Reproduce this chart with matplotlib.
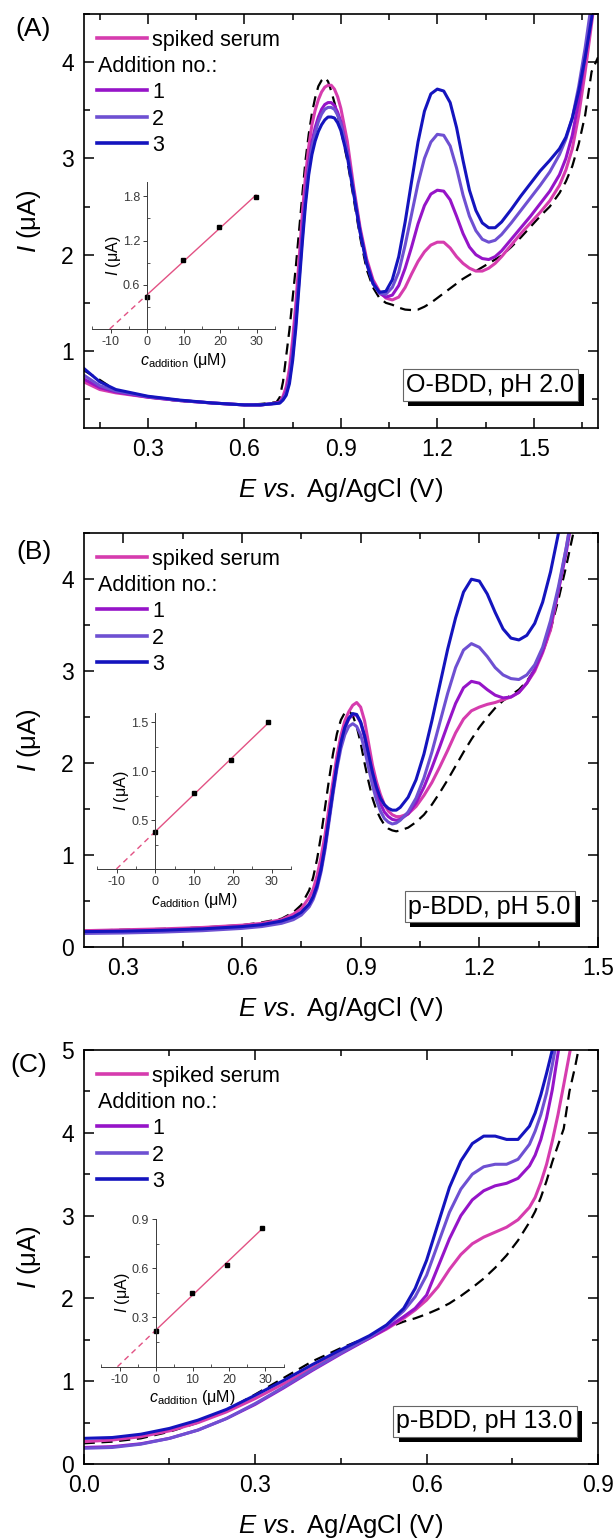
import numpy as np
import matplotlib
matplotlib.use('Agg')
import matplotlib.pyplot as plt
import matplotlib.patheffects as pe
from matplotlib.ticker import MultipleLocator

plt.rcParams['font.family'] = ['Liberation Sans', 'DejaVu Sans']
plt.rcParams['mathtext.fontset'] = 'custom'
plt.rcParams['mathtext.rm'] = 'Liberation Sans'
plt.rcParams['mathtext.it'] = 'Liberation Sans:italic'
plt.rcParams['axes.unicode_minus'] = False

# ---- panel A (O-BDD, pH 2.0) ----
E_a = [0.10, 0.15, 0.20, 0.30, 0.40, 0.50, 0.60, 0.65, 0.68, 0.70, 0.71, 0.72, 0.73, 0.74, 0.75,
       0.76, 0.77, 0.78, 0.79, 0.80, 0.81, 0.82, 0.83, 0.84, 0.85, 0.86, 0.87, 0.88, 0.89, 0.90,
       0.92, 0.94, 0.96, 0.98, 1.00, 1.02, 1.04, 1.06, 1.08, 1.10, 1.12, 1.14, 1.16, 1.18, 1.20,
       1.22, 1.24, 1.26, 1.28, 1.30, 1.32, 1.34, 1.36, 1.38, 1.40, 1.43, 1.46, 1.49, 1.52, 1.55,
       1.58, 1.60, 1.62, 1.64, 1.66, 1.68, 1.70]
blank_a = [0.80, 0.70, 0.59, 0.52, 0.48, 0.46, 0.44, 0.45, 0.46, 0.47, 0.52, 0.68, 0.95, 1.22, 1.55,
           1.88, 2.25, 2.62, 2.98, 3.25, 3.47, 3.63, 3.75, 3.81, 3.84, 3.80, 3.70, 3.58, 3.45, 3.30,
           2.98, 2.58, 2.18, 1.85, 1.66, 1.55, 1.50, 1.48, 1.45, 1.43, 1.425, 1.43, 1.46, 1.50, 1.55,
           1.60, 1.65, 1.70, 1.75, 1.79, 1.83, 1.87, 1.91, 1.95, 1.99, 2.08, 2.18, 2.29, 2.40, 2.50,
           2.64, 2.76, 2.92, 3.15, 3.45, 3.90, 4.05]
serum_a = [0.68, 0.60, 0.565, 0.52, 0.485, 0.46, 0.44, 0.44, 0.45, 0.46, 0.47, 0.53, 0.63, 0.82, 1.12,
           1.50, 1.95, 2.42, 2.82, 3.12, 3.35, 3.50, 3.61, 3.69, 3.74, 3.76, 3.76, 3.72, 3.64, 3.52,
           3.18, 2.70, 2.28, 1.96, 1.74, 1.62, 1.55, 1.53, 1.56, 1.66, 1.80, 1.93, 2.03, 2.10, 2.13,
           2.13, 2.07, 1.98, 1.91, 1.86, 1.83, 1.83, 1.86, 1.91, 1.98, 2.10, 2.22, 2.33, 2.44, 2.56,
           2.72, 2.88, 3.10, 3.45, 3.90, 4.40, 4.90]
add1_a = [0.71, 0.62, 0.575, 0.52, 0.485, 0.46, 0.44, 0.44, 0.45, 0.46, 0.465, 0.51, 0.58, 0.74, 1.00,
          1.36, 1.80, 2.25, 2.64, 2.95, 3.17, 3.32, 3.43, 3.51, 3.56, 3.58, 3.58, 3.55, 3.48, 3.38,
          3.07, 2.66, 2.25, 1.93, 1.72, 1.60, 1.56, 1.58, 1.68, 1.86, 2.08, 2.32, 2.51, 2.63, 2.67,
          2.66, 2.57, 2.40, 2.22, 2.08, 2.00, 1.96, 1.95, 1.98, 2.04, 2.16, 2.28, 2.40, 2.53, 2.66,
          2.83, 3.00, 3.24, 3.60, 4.06, 4.55, 5.00]
add2_a = [0.75, 0.64, 0.585, 0.525, 0.485, 0.46, 0.44, 0.44, 0.45, 0.455, 0.46, 0.50, 0.56, 0.70, 0.95,
          1.30, 1.74, 2.18, 2.58, 2.90, 3.12, 3.27, 3.38, 3.46, 3.51, 3.53, 3.53, 3.51, 3.45, 3.36,
          3.06, 2.65, 2.24, 1.92, 1.70, 1.60, 1.59, 1.66, 1.82, 2.10, 2.42, 2.74, 3.00, 3.17, 3.25,
          3.24, 3.13, 2.90, 2.62, 2.40, 2.25, 2.16, 2.13, 2.15, 2.21, 2.33, 2.46, 2.59, 2.72, 2.86,
          3.04, 3.20, 3.42, 3.75, 4.15, 4.62, 5.00]
add3_a = [0.82, 0.68, 0.60, 0.53, 0.49, 0.46, 0.44, 0.44, 0.45, 0.455, 0.46, 0.49, 0.54, 0.66, 0.90,
          1.24, 1.68, 2.12, 2.52, 2.83, 3.04, 3.18, 3.28, 3.35, 3.40, 3.43, 3.43, 3.42, 3.37, 3.29,
          3.02, 2.63, 2.23, 1.91, 1.70, 1.61, 1.62, 1.74, 1.98, 2.34, 2.76, 3.17, 3.49, 3.67, 3.72,
          3.70, 3.58, 3.32, 2.98, 2.67, 2.46, 2.33, 2.28, 2.28, 2.34, 2.47, 2.61, 2.74, 2.87, 2.98,
          3.10, 3.22, 3.42, 3.70, 4.05, 4.45, 4.90]
conc_a = [0, 9.9, 19.7, 29.8]
peak_a = [0.44, 0.935, 1.39, 1.79]

# ---- panel B (p-BDD, pH 5.0) ----
E_b = [0.20, 0.30, 0.40, 0.50, 0.60, 0.65, 0.70, 0.73, 0.75, 0.77, 0.78, 0.79, 0.80, 0.81, 0.82,
       0.83, 0.84, 0.85, 0.86, 0.87, 0.88, 0.89, 0.90, 0.91, 0.92, 0.93, 0.94, 0.95, 0.96, 0.97,
       0.98, 0.99, 1.00, 1.02, 1.04, 1.06, 1.08, 1.10, 1.12, 1.14, 1.16, 1.18, 1.20, 1.22, 1.24,
       1.26, 1.28, 1.30, 1.32, 1.34, 1.36, 1.38, 1.40, 1.42, 1.44, 1.46]
blank_b = [0.18, 0.19, 0.20, 0.215, 0.24, 0.27, 0.31, 0.38, 0.46, 0.62, 0.76, 0.96, 1.22, 1.52, 1.82,
           2.10, 2.32, 2.47, 2.55, 2.57, 2.52, 2.40, 2.22, 2.00, 1.80, 1.62, 1.49, 1.40, 1.33, 1.29,
           1.27, 1.26, 1.27, 1.30, 1.36, 1.44, 1.55, 1.68, 1.82, 1.97, 2.12, 2.26, 2.39, 2.50, 2.60,
           2.68, 2.74, 2.80, 2.89, 3.02, 3.20, 3.45, 3.78, 4.15, 4.55, 5.00]
serum_b = [0.18, 0.19, 0.20, 0.215, 0.24, 0.26, 0.30, 0.36, 0.42, 0.54, 0.63, 0.78, 0.98, 1.22, 1.52,
           1.80, 2.08, 2.30, 2.46, 2.56, 2.63, 2.66, 2.61, 2.46, 2.22, 1.98, 1.80, 1.66, 1.55, 1.48,
           1.44, 1.42, 1.42, 1.45, 1.53, 1.65, 1.79, 1.96, 2.14, 2.33, 2.48, 2.57, 2.61, 2.64, 2.66,
           2.69, 2.72, 2.77, 2.87, 3.00, 3.20, 3.45, 3.88, 4.35, 4.85, 5.30]
add1_b = [0.16, 0.165, 0.175, 0.19, 0.215, 0.235, 0.27, 0.32, 0.37, 0.47, 0.55, 0.68, 0.86, 1.10, 1.40,
          1.70, 1.98, 2.22, 2.38, 2.48, 2.53, 2.52, 2.44, 2.28, 2.07, 1.86, 1.69, 1.56, 1.47, 1.42,
          1.39, 1.38, 1.39, 1.45, 1.57, 1.74, 1.95, 2.18, 2.42, 2.65, 2.82, 2.89, 2.87, 2.80, 2.74,
          2.71, 2.72, 2.77, 2.87, 3.02, 3.22, 3.50, 3.88, 4.30, 4.80, 5.30]
add2_b = [0.15, 0.155, 0.165, 0.18, 0.205, 0.225, 0.26, 0.30, 0.35, 0.44, 0.52, 0.64, 0.82, 1.06, 1.36,
          1.66, 1.94, 2.16, 2.31, 2.40, 2.43, 2.40, 2.31, 2.15, 1.95, 1.76, 1.60, 1.48, 1.40, 1.36,
          1.34, 1.35, 1.38, 1.47, 1.62, 1.84, 2.12, 2.44, 2.76, 3.04, 3.23, 3.30, 3.26, 3.16, 3.04,
          2.96, 2.92, 2.91, 2.96, 3.07, 3.26, 3.55, 3.92, 4.35, 4.85, 5.30]
add3_b = [0.17, 0.175, 0.185, 0.20, 0.225, 0.245, 0.285, 0.33, 0.38, 0.47, 0.55, 0.67, 0.85, 1.10, 1.40,
          1.70, 1.98, 2.22, 2.39, 2.49, 2.54, 2.53, 2.45, 2.30, 2.10, 1.90, 1.74, 1.62, 1.55, 1.51,
          1.49, 1.49, 1.52, 1.63, 1.82, 2.10, 2.46, 2.85, 3.24, 3.58, 3.86, 4.00, 3.98, 3.84, 3.64,
          3.46, 3.36, 3.34, 3.39, 3.52, 3.75, 4.08, 4.50, 5.00, 5.50, 6.00]
conc_b = [0, 9.9, 19.6, 29.1]
peak_b = [0.38, 0.777, 1.116, 1.50]

# ---- panel C (p-BDD, pH 13.0) ----
E_c = [0.00, 0.05, 0.10, 0.15, 0.20, 0.25, 0.30, 0.35, 0.40, 0.45, 0.50, 0.53, 0.56, 0.58, 0.60,
       0.62, 0.64, 0.66, 0.68, 0.70, 0.72, 0.74, 0.76, 0.78, 0.79, 0.80, 0.81, 0.82, 0.83, 0.84,
       0.85, 0.86, 0.87, 0.88]
blank_c = [0.25, 0.27, 0.31, 0.39, 0.50, 0.65, 0.84, 1.04, 1.24, 1.40, 1.54, 1.64, 1.72, 1.76, 1.81,
           1.87, 1.94, 2.03, 2.13, 2.24, 2.37, 2.52, 2.70, 2.92, 3.05, 3.22, 3.42, 3.65, 3.85, 4.05,
           4.50, 4.80, 5.15, 5.50]
serum_c = [0.27, 0.29, 0.33, 0.40, 0.50, 0.63, 0.79, 0.97, 1.16, 1.35, 1.52, 1.63, 1.76, 1.86, 1.98,
           2.14, 2.35, 2.53, 2.66, 2.74, 2.80, 2.86, 2.95, 3.10, 3.22, 3.40, 3.62, 3.90, 4.22, 4.58,
           4.95, 5.30, 5.70, 6.00]
add1_c = [0.20, 0.21, 0.245, 0.31, 0.41, 0.55, 0.72, 0.92, 1.13, 1.33, 1.52, 1.64, 1.78, 1.88, 2.04,
          2.38, 2.72, 3.00, 3.19, 3.30, 3.36, 3.39, 3.45, 3.60, 3.73, 3.92, 4.18, 4.52, 4.96, 5.40,
          5.80, 6.20, 6.60, 7.00]
add2_c = [0.19, 0.20, 0.24, 0.31, 0.41, 0.55, 0.73, 0.93, 1.14, 1.34, 1.53, 1.67, 1.85, 2.02, 2.28,
          2.66, 3.04, 3.32, 3.50, 3.59, 3.62, 3.62, 3.68, 3.86, 4.02, 4.22, 4.48, 4.82, 5.20, 5.60,
          6.00, 6.40, 6.80, 7.20]
add3_c = [0.31, 0.32, 0.36, 0.43, 0.53, 0.66, 0.83, 1.01, 1.20, 1.38, 1.55, 1.68, 1.88, 2.12, 2.46,
          2.90, 3.34, 3.66, 3.87, 3.96, 3.96, 3.92, 3.92, 4.08, 4.24, 4.46, 4.72, 5.00, 5.40, 5.80,
          6.20, 6.60, 7.00, 7.40]
conc_c = [0, 9.8, 19.5, 29.0]
peak_c = [0.219, 0.449, 0.618, 0.845]

colors = ['#d63cae', '#9614c8', '#6e50d2', '#1414be']
fit_color = '#e25284'

fig = plt.figure(figsize=(6.16, 15.38), dpi=100)


def main_panel(bottom, E, blank, curves, xlim, ylim, xticks, yticks,
               box_text, box_x, box_y, letter, letter_x, letter_y):
    ax = fig.add_axes([0.1359, bottom, 0.8349, 0.2692])
    ax.plot(E, blank, color='black', lw=1.6, ls=(0, (5, 3)))
    for y, c in zip(curves, colors):
        ax.plot(E, y, color=c, lw=2.2)
    ax.set_xlim(*xlim)
    ax.set_ylim(*ylim)
    ax.set_xticks(xticks)
    ax.set_yticks(yticks)
    ax.xaxis.set_minor_locator(MultipleLocator(0.15))
    ax.yaxis.set_minor_locator(MultipleLocator(0.5))
    ax.tick_params(which='both', direction='in', top=True, right=True, labelsize=16.5, width=1.1)
    ax.tick_params(which='major', length=7, pad=7)
    ax.tick_params(which='minor', length=4)
    for s in ax.spines.values():
        s.set_linewidth(1.2)
    ax.set_xlabel(r'$E$ $vs.$ Ag/AgCl (V)', fontsize=18.5, labelpad=11)
    ax.set_ylabel(r'$I$ (μA)', fontsize=18.5, labelpad=13)

    # legend drawn by hand (header line has no handle)
    ys = [0.943, 0.879, 0.816, 0.751, 0.688]
    names = ['spiked serum', None, '1', '2', '3']
    cols = [colors[0], None, colors[1], colors[2], colors[3]]
    for y, n, c in zip(ys, names, cols):
        if n is None:
            ax.text(0.027, y, 'Addition no.:', transform=ax.transAxes,
                    va='center_baseline', fontsize=15.5)
            continue
        ax.plot([0.0266, 0.1235], [y, y], color=c, lw=2.6, transform=ax.transAxes)
        ax.text(0.1335, y, n, transform=ax.transAxes, va='center_baseline', fontsize=15.5)

    t = ax.text(box_x, box_y, box_text, transform=ax.transAxes, ha='right', va='center',
                fontsize=18, bbox=dict(boxstyle='square,pad=0.15', fc='white', ec='#666666', lw=0.8))
    t.get_bbox_patch().set_path_effects([
        pe.SimplePatchShadow(offset=(4.2, -3.6), shadow_rgbFace='black', alpha=1.0),
        pe.Normal()])
    fig.text(letter_x, letter_y, letter, ha='center', va='center', fontsize=19)
    return ax


def inset(rect, conc, peak, ytop, yticks, yminor):
    ins = fig.add_axes(rect)
    ins.patch.set_alpha(0)
    m, b = np.polyfit(conc, peak, 1)
    x0 = -b / m
    ins.plot([x0, 0], [0, b], color=fit_color, lw=1, ls=(0, (4, 3)))
    ins.plot([0, conc[-1]], [b, m * conc[-1] + b], color=fit_color, lw=1)
    ins.plot(conc, peak, 's', color='black', ms=3.4)
    ins.set_xlim(-15, 35)
    ins.set_ylim(0, ytop)
    ins.spines['top'].set_visible(False)
    ins.spines['right'].set_visible(False)
    ins.spines['left'].set_position(('data', 0))
    for s in ('left', 'bottom'):
        ins.spines[s].set_linewidth(0.7)
        ins.spines[s].set_color('#3a3a3a')
    ins.set_xticks([-10, 0, 10, 20, 30])
    ins.xaxis.set_minor_locator(MultipleLocator(5))
    ins.set_yticks(yticks)
    ins.yaxis.set_minor_locator(MultipleLocator(yminor))
    ins.tick_params(which='major', direction='out', length=3, width=0.7, colors='#3a3a3a',
                    labelsize=9, pad=2)
    ins.tick_params(which='minor', direction='in', length=2, width=0.6, colors='#3a3a3a')
    ins.set_xlabel(r'$c_{\mathrm{addition}}$ (μM)', fontsize=11.5, labelpad=2)
    ins.set_ylabel(r'$I$ (μA)', fontsize=11.5, labelpad=0)
    return ins


main_panel(0.7217, E_a, blank_a, [serum_a, add1_a, add2_a, add3_a], (0.1, 1.7), (0.2, 4.5),
           [0.3, 0.6, 0.9, 1.2, 1.5], [1, 2, 3, 4], 'O-BDD, pH 2.0', 0.954, 0.104,
           '(A)', 33.5 / 616, 1 - 29 / 1538)
inset([0.1498, 0.7861, 0.2966, 0.0958], conc_a, peak_a, 2.0, [0.6, 1.2, 1.8], 0.3)

main_panel(0.3841, E_b, blank_b, [serum_b, add1_b, add2_b, add3_b], (0.2, 1.5), (0, 4.5),
           [0.3, 0.6, 0.9, 1.2, 1.5], [0, 1, 2, 3, 4], 'p-BDD, pH 5.0', 0.947, 0.098,
           '(B)', 33.5 / 616, 1 - 552 / 1538)
inset([0.1581, 0.4350, 0.3144, 0.1016], conc_b, peak_b, 1.6, [0.5, 1.0, 1.5], 0.25)

axc = main_panel(0.0481, E_c, blank_c, [serum_c, add1_c, add2_c, add3_c], (0.0, 0.9), (0, 5),
                 [0.0, 0.3, 0.6, 0.9], [0, 1, 2, 3, 4, 5], 'p-BDD, pH 13.0', 0.951, 0.103,
                 '(C)', 28.5 / 616, 1 - 1065 / 1538)
axc.set_xticklabels(['0.0', '0.3', '0.6', '0.9'])
inset([0.1646, 0.1114, 0.2959, 0.0960], conc_c, peak_c, 0.9, [0.3, 0.6, 0.9], 0.15)

fig.savefig('out.png', dpi=100)
